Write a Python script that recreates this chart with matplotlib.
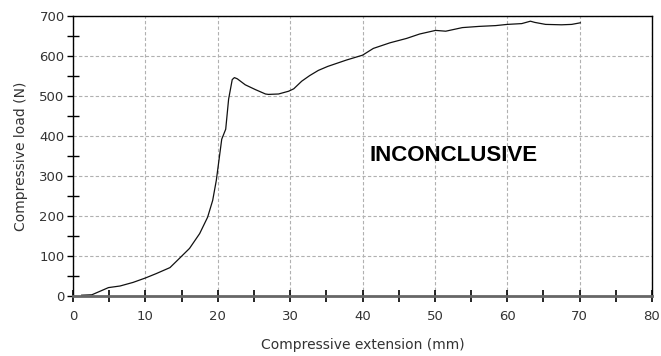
import matplotlib
matplotlib.use("Agg")
from matplotlib import pyplot as plt
from matplotlib.ticker import MultipleLocator

# load-extension trace of the compression test
extension = [1.2, 2.6, 3.75, 4.9, 6.5, 8.3, 10.0, 11.5, 13.4, 14.7, 16.1, 17.5,
             18.6, 19.3, 19.8, 20.55, 21.1, 21.5, 22.0, 22.3, 22.7, 23.8, 25.2,
             26.6, 27.0, 28.4, 29.8, 30.5, 31.6, 32.7, 33.9, 35.2, 37.8, 40.0,
             41.5, 43.8, 46.1, 47.9, 50.1, 51.5, 53.8, 56.1, 58.4, 60.0, 62.0,
             63.2, 63.8, 65.3, 67.5, 68.9, 70.1]
load = [2, 3, 12, 21, 25, 34, 45, 56, 71, 94, 119, 156,
        197, 239, 289, 392, 417, 492, 541, 546, 543, 528, 516,
        505, 504, 505, 512, 518, 537, 551, 564, 574, 590, 602,
        619, 633, 644, 655, 664, 662, 671, 674, 676, 679, 681,
        687, 684, 679, 678, 679, 683]

fig = plt.figure(figsize=(6.61, 3.56), dpi=100)
ax = fig.add_axes([73 / 661, 60 / 356, 579 / 661, 280 / 356])

ax.plot(extension, load, color="#111111", linewidth=0.9)

ax.set_xlim(0, 80)
ax.set_ylim(0, 700)
ax.xaxis.set_major_locator(MultipleLocator(10))
ax.xaxis.set_minor_locator(MultipleLocator(5))
ax.yaxis.set_major_locator(MultipleLocator(100))
ax.yaxis.set_minor_locator(MultipleLocator(50))
ax.tick_params(axis="x", which="both", direction="inout", length=8, width=1.2,
               colors="black", labelsize=9.5, labelcolor="#333333", pad=6)
ax.tick_params(axis="y", which="major", direction="out", length=4, width=1,
               colors="black", labelsize=9.5, labelcolor="#333333", pad=2)
ax.tick_params(axis="y", which="minor", direction="inout", length=8, width=1,
               colors="black")
ax.grid(True, which="major", color="#b0b0b0", linestyle=(0, (3, 2)), linewidth=0.8)

for side in ["top", "right", "left"]:
    ax.spines[side].set_linewidth(1.0)
    ax.spines[side].set_color("black")
ax.spines["bottom"].set_linewidth(2.0)
ax.spines["bottom"].set_color("#666666")

ax.set_xlabel("Compressive extension (mm)", fontsize=10, color="#333333", labelpad=11)
ax.set_ylabel("Compressive load (N)", fontsize=10, color="#333333", labelpad=8)

ax.text(41, 352, "INCONCLUSIVE", fontsize=16, fontweight="bold",
        family="Liberation Sans", va="center", ha="left")

fig.savefig("out.png", dpi=100)
